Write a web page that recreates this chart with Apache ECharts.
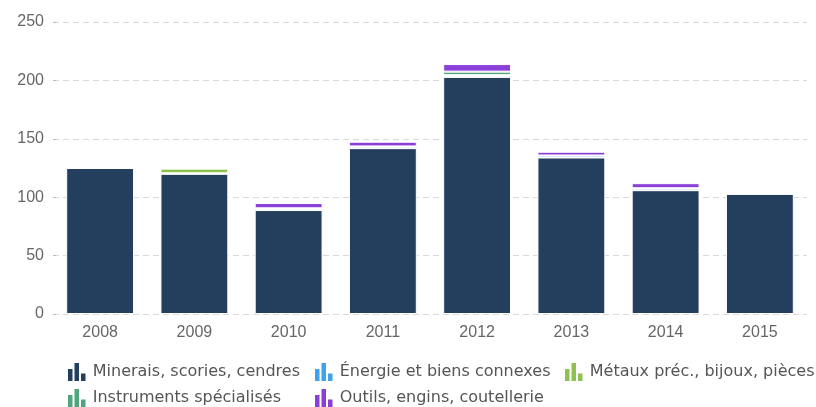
<!DOCTYPE html>
<html>
<head>
<meta charset="utf-8">
<script src="https://cdn.jsdelivr.net/npm/echarts@6/dist/echarts.min.js"></script>
<style>
  html, body { margin: 0; padding: 0; background: #fff; }
  #main { width: 816px; height: 407px; }
</style>
</head>
<body>
<div id="main"></div>
<script>
  // categories and values
  var years = ['2008', '2009', '2010', '2011', '2012', '2013', '2014', '2015']
  var minerais = [125, 120, 89, 142, 203, 134, 106, 103]
  var energie = [0, 0.5, 1.5, 1.5, 1.5, 1.7, 1.7, 0]
  var metaux = [0, 4, 0, 0, 0, 0, 0, 0]
  var instruments = [0, 0, 0, 0, 3, 0, 0, 0]
  var outils = [0, 0, 4.5, 4, 6.5, 3.2, 4.3, 0]
  var yTicks = [0, 50, 100, 150, 200, 250]

  var names = {
    minerais: 'Minerais, scories, cendres',
    energie: 'Énergie et biens connexes',
    metaux: 'Métaux préc., bijoux, pièces',
    instruments: 'Instruments spécialisés',
    outils: 'Outils, engins, coutellerie'
  }
  var colors = {
    minerais: '#243f5e',
    energie: '#3fa2ee',
    metaux: '#8fc150',
    instruments: '#4fa67c',
    outils: '#8a3fd9'
  }
  var icon = 'path://M0,6H4.5V18H0Z M6.5,0H11V18H6.5Z M13,10.5H17.5V18H13Z'

  function makeSeries (key, data) {
    return {
      name: names[key],
      type: 'bar',
      stack: 'total',
      barWidth: '72%',
      data: data,
      itemStyle: {
        color: colors[key],
        borderColor: '#fff',
        borderWidth: 1
      },
      emphasis: { disabled: true }
    }
  }

  function makeLegend (left, items) {
    return {
      orient: 'vertical',
      left: left,
      top: 363,
      padding: 0,
      itemWidth: 18,
      itemHeight: 18,
      itemGap: 8,
      icon: icon,
      itemStyle: { borderWidth: 0 },
      textStyle: {
        fontFamily: 'DejaVu Sans',
        fontSize: 16,
        color: '#555',
        padding: [0, 0, 0, 2]
      },
      data: items
    }
  }

  var chart = echarts.init(document.getElementById('main'))
  chart.setOption({
    animation: false,
    grid: {
      left: 53,
      right: 9,
      top: 22,
      bottom: 93,
      containLabel: false
    },
    legend: [
      makeLegend(68, [names.minerais, names.instruments]),
      makeLegend(315, [names.energie, names.outils]),
      makeLegend(565, [names.metaux])
    ],
    xAxis: {
      type: 'category',
      data: years,
      axisLine: { show: false },
      axisTick: { show: false },
      axisLabel: {
        margin: 11,
        fontFamily: 'Liberation Sans',
        fontSize: 16,
        color: '#666'
      }
    },
    yAxis: {
      type: 'value',
      min: yTicks[0],
      max: yTicks[yTicks.length - 1],
      interval: 50,
      axisLine: { show: false },
      axisTick: {
        show: true,
        inside: true,
        length: 3,
        lineStyle: { color: '#bbb' }
      },
      axisLabel: {
        margin: 9,
        fontFamily: 'Liberation Sans',
        fontSize: 16,
        color: '#666'
      },
      splitLine: {
        lineStyle: { color: '#d9d9d9', type: [6, 4] }
      }
    },
    series: [
      makeSeries('minerais', minerais),
      makeSeries('energie', energie),
      makeSeries('metaux', metaux),
      makeSeries('instruments', instruments),
      makeSeries('outils', outils)
    ]
  })
</script>
</body>
</html>
